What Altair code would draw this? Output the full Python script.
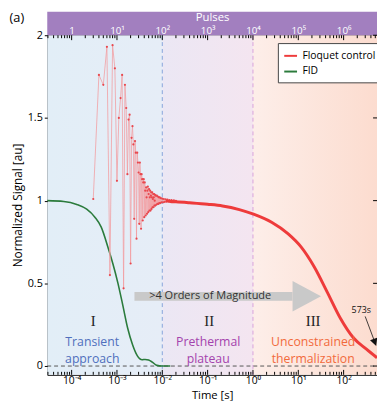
import json
import altair as alt
import pandas as pd

# ---------------- data ----------------
# Floquet control, transient regime: pulse number -> normalized signal
osc_pulse = [3, 4, 5, 6, 7, 8, 9, 10, 11, 12, 13, 14, 15, 16, 17, 18, 19, 20,
             21, 22, 23, 24, 25, 26, 27, 28, 29, 30, 31, 32, 33, 34, 35, 36,
             37, 38, 39, 40, 41, 42, 43, 44, 45, 46, 47, 48, 49, 50, 51, 52,
             53, 54, 55, 56, 57, 58, 59, 60, 61, 62, 63, 64, 65, 66, 67, 68,
             69, 70, 72, 74, 76, 78, 80, 82, 84, 86, 88, 90, 93, 96, 100, 104,
             108, 113, 118, 124, 130, 137, 144, 152, 160, 170, 180, 200]
osc_value = [1.01, 1.76, 1.70, 1.93, 0.55, 1.94, 1.80, 1.12, 1.50, 1.62, 1.76,
             0.47, 1.70, 1.56, 1.16, 1.49, 1.52, 0.62, 1.38, 1.45, 1.34, 0.89,
             1.36, 1.29, 0.77, 1.29, 1.23, 1.17, 0.86, 1.23, 1.16, 0.83, 1.16,
             1.13, 0.88, 1.11, 1.13, 0.90, 1.11, 1.06, 0.91, 1.08, 1.02, 0.92,
             1.06, 1.085, 0.93, 1.04, 1.07, 0.94, 1.02, 1.06, 0.94, 1.03, 1.05,
             0.95, 1.02, 1.05, 0.96, 1.01, 1.04, 0.96, 1.02, 1.04, 0.97, 1.00,
             1.035, 0.97, 1.03, 0.975, 1.03, 0.98, 1.025, 0.98, 1.02, 0.985,
             1.02, 0.985, 1.015, 0.99, 1.012, 0.99, 1.01, 0.992, 1.008, 0.994,
             1.006, 0.995, 1.004, 0.996, 1.003, 0.997, 1.002, 0.999]
PULSE_SPACING_S = 1e-4

# Floquet control, plateau and thermalization: time [s] -> signal
flo_time = [0.012, 0.015, 0.02, 0.04, 0.1, 0.213, 0.5, 1.03, 2.58, 5.9,
            11.5, 22.4, 43.5, 84.8, 164, 319, 545]
flo_value = [1.0, 0.995, 0.993, 0.987, 0.978, 0.968, 0.946, 0.918, 0.869,
             0.80, 0.72, 0.60, 0.447, 0.289, 0.171, 0.102, 0.05]

# FID: time [s] -> signal
fid_time = [2.9e-5, 6.7e-5, 1.3e-4, 2.15e-4, 3.26e-4, 4.5e-4, 6.3e-4, 8.1e-4,
            1.04e-3, 1.34e-3, 1.72e-3, 2.2e-3, 2.8e-3, 3.6e-3, 4.2e-3, 5.0e-3,
            6.0e-3, 7.6e-3, 9.8e-3, 1.5e-2]
fid_value = [1.0, 0.995, 0.977, 0.948, 0.90, 0.84, 0.72, 0.62, 0.506, 0.37,
             0.23, 0.13, 0.063, 0.038, 0.04, 0.036, 0.024, 0.004, 0.0, 0.0]

series_names = ["Floquet control", "FID"]
series_colors = ["#ee3b3b", "#2b7b3c"]

x_tick_values = [1e-4, 1e-3, 1e-2, 1e-1, 1, 10, 100]
x_labels_bottom = ["10⁻⁴", "10⁻³", "10⁻²", "10⁻¹", "10⁰", "10¹", "10²"]
x_labels_top = ["1", "10¹", "10²", "10³", "10⁴", "10⁵", "10⁶"]
y_tick_values = [0, 0.5, 1, 1.5, 2]

region_edges = [2.9e-5, 1e-2, 1.0, 545]
region_names = ["I", "II", "III"]
region_name_time = [3.0e-4, 0.108, 21.3]
region_line1 = ["Transient", "Prethermal", "Unconstrained"]
region_line2 = ["approach", "plateau", "thermalization"]
region_text_time = [2.85e-4, 0.103, 21.3]
region_colors = ["#4f6fbd", "#a443ad", "#f26a3c"]

# ---------------- layout ----------------
TOP = 24
W, H = 336, 346
xs = alt.Scale(type="log", domain=[region_edges[0], region_edges[-1]], nice=False)
ys = alt.Scale(domain=[-0.053, 2.0], nice=False, zero=False)

Y_AXIS = alt.Axis(values=y_tick_values, labelExpr="datum.value + ''",
                  title="Normalized Signal [au]", tickSize=3, tickColor="black",
                  domain=False, grid=False, labelFontSize=11, titleFontSize=12,
                  titleFontWeight="normal", labelPadding=2, titlePadding=3,
                  zindex=1)
bottom_axis = alt.Axis(orient="bottom", values=x_tick_values,
                       labelExpr=json.dumps(x_labels_bottom, ensure_ascii=False)
                       + "[round(log(datum.value)/LN10)+4]",
                       ticks=False, domain=False, grid=False, labelFontSize=10.5,
                       labelPadding=1, labelOverlap=False, title="Time [s]",
                       titleFontSize=11.5, titleFontWeight="normal",
                       titleY=26, titleBaseline="bottom", zindex=1)
top_axis = alt.Axis(orient="top", values=x_tick_values,
                    labelExpr=json.dumps(x_labels_top, ensure_ascii=False)
                    + "[round(log(datum.value)/LN10)+4]",
                    ticks=False, domain=False, grid=False, labelFontSize=10,
                    labelColor="white", labelPadding=0, labelOverlap=False,
                    title="Pulses", titleColor="white", titleFontSize=11.5,
                    titleFontWeight="normal", titleY=-TOP, titleBaseline="top",
                    zindex=1)


def X(field, axis=None):
    return alt.X(f"{field}:Q", scale=xs, axis=axis)


def Y(field):
    return alt.Y(f"{field}:Q", scale=ys, axis=Y_AXIS)


cscale = alt.Scale(domain=series_names, range=series_colors)
legend = alt.Legend(orient="none", legendX=235, legendY=8, title=None,
                    symbolType="stroke", symbolStrokeWidth=2, symbolSize=170,
                    labelFontSize=10.5, fillColor="white", strokeColor="#444",
                    padding=5, rowPadding=2, labelColor="black")


def bg(x0, x1, c0, c1):
    return alt.Chart(pd.DataFrame({"a": [x0], "b": [x1]})).mark_rect(
        color={"gradient": "linear", "x1": 0, "x2": 1, "y1": 0, "y2": 0,
               "stops": [{"offset": 0, "color": c0}, {"offset": 1, "color": c1}]}
    ).encode(x=X("a"), x2="b", y=alt.value(0), y2=alt.value(H))


layers = []
layers.append(bg(region_edges[0], region_edges[1], "#e2eef7", "#e6edf7"))
layers.append(bg(region_edges[1], region_edges[2], "#ebe7f4", "#f4e5f0"))
layers.append(bg(region_edges[2], region_edges[3], "#fdeee9", "#fcdccf"))

# vertical dashed boundaries
for t, c in [(region_edges[1], "#86a3da"), (region_edges[2], "#d8a2da")]:
    layers.append(alt.Chart(pd.DataFrame({"t": [t]})).mark_rule(
        color=c, strokeDash=[4, 3], strokeWidth=1).encode(
        x=X("t"), y=alt.value(0), y2=alt.value(H)))

# zero line
layers.append(alt.Chart(pd.DataFrame({"v": [0]})).mark_rule(
    color="#555", strokeDash=[4, 3], strokeWidth=1).encode(
    y=Y("v"), x=alt.value(0), x2=alt.value(W)))

# ">4 orders of magnitude" arrow
arrow_df = pd.DataFrame({"a": [2.43e-3], "b": [7.46], "v0": [0.395], "v1": [0.448]})
layers.append(alt.Chart(arrow_df).mark_rect(color="#c9c9c9").encode(
    x=X("a"), x2="b", y=Y("v0"), y2="v1"))
layers.append(alt.Chart(pd.DataFrame({"t": [15.4], "v": [0.422]})).mark_point(
    shape="M-1,-1.07L1,0L-1,1.07Z", size=841, filled=True, color="#c9c9c9",
    opacity=1, strokeWidth=0).encode(x=X("t"), y=Y("v")))
layers.append(alt.Chart(pd.DataFrame({"t": [5.14e-3], "v": [0.422],
                                      "s": [">4 Orders of Magnitude"]})).mark_text(
    align="left", baseline="middle", fontSize=11.2, color="#333").encode(
    x=X("t"), y=Y("v"), text="s:N"))

# FID curve
fid_df = pd.DataFrame({"t": fid_time, "v": fid_value, "s": series_names[1]})
layers.append(alt.Chart(fid_df).mark_line(strokeWidth=1.6, interpolate="monotone").encode(
    x=X("t"), y=Y("v"), color=alt.Color("s:N", scale=cscale, legend=legend)))

# Floquet transient oscillations
osc_df = pd.DataFrame({"t": [n * PULSE_SPACING_S for n in osc_pulse], "v": osc_value})
layers.append(alt.Chart(osc_df).mark_line(color="#f29ea2", strokeWidth=0.8).encode(
    x=X("t"), y=Y("v")))
layers.append(alt.Chart(osc_df).mark_point(filled=True, size=5, color="#e8474d",
                                           opacity=1).encode(x=X("t"), y=Y("v")))

# Floquet plateau + decay
flo_df = pd.DataFrame({"t": flo_time, "v": flo_value, "s": series_names[0]})
layers.append(alt.Chart(flo_df).mark_line(strokeWidth=3, interpolate="monotone").encode(
    x=X("t", bottom_axis), y=Y("v"),
    color=alt.Color("s:N", scale=cscale, legend=legend)))

# region labels
roman_df = pd.DataFrame({"t": region_name_time, "v": [0.271] * 3, "s": region_names})
layers.append(alt.Chart(roman_df).mark_text(
    font="Liberation Serif", fontSize=15, color="#222", baseline="middle").encode(
    x=X("t"), y=Y("v"), text="s:N"))
for i in range(3):
    dfi = pd.DataFrame({"t": [region_text_time[i]] * 2, "v": [0.145, 0.045],
                        "s": [region_line1[i], region_line2[i]]})
    layers.append(alt.Chart(dfi).mark_text(
        fontSize=12.5, color=region_colors[i], baseline="middle").encode(
        x=X("t"), y=Y("v"), text="s:N"))

# 573 s annotation
layers.append(alt.Chart(pd.DataFrame({"t": [245], "v": [0.336], "s": ["573s"]})).mark_text(
    fontSize=9, color="#111", baseline="middle").encode(x=X("t"), y=Y("v"), text="s:N"))
layers.append(alt.Chart(pd.DataFrame({"a": [299], "b": [495], "v0": [0.30], "v1": [0.14]})).mark_rule(
    color="#111", strokeWidth=0.8).encode(x=X("a"), x2="b", y=Y("v0"), y2="v1"))
layers.append(alt.Chart(pd.DataFrame({"t": [490], "v": [0.142]})).mark_point(
    shape="M-1,-1L1,-1L0,1Z", size=60, filled=True, color="#111", angle=340,
    opacity=1, strokeWidth=0).encode(x=X("t"), y=Y("v")))

# top "Pulses" band with its axis
layers.append(alt.Chart(pd.DataFrame({"a": [region_edges[0]], "b": [region_edges[-1]]})).mark_rect(
    color="#a27fbf").encode(x=X("a", top_axis), x2="b", y=alt.value(-TOP), y2=alt.value(0)))

# inward ticks (major + minor) on top and bottom, and on the right side
minor = [k * 10.0 ** d for d in range(-5, 3) for k in range(2, 10)
         if region_edges[0] <= k * 10.0 ** d <= region_edges[-1]]
maj_df = pd.DataFrame({"t": x_tick_values})
min_df = pd.DataFrame({"t": minor})
for df, ln in [(maj_df, 5), (min_df, 3)]:
    layers.append(alt.Chart(df).mark_rule(color="black", strokeWidth=1).encode(
        x=X("t"), y=alt.value(H - ln), y2=alt.value(H)))
    layers.append(alt.Chart(df).mark_rule(color="black", strokeWidth=1).encode(
        x=X("t"), y=alt.value(0), y2=alt.value(ln)))
layers.append(alt.Chart(pd.DataFrame({"v": y_tick_values})).mark_rule(
    color="black", strokeWidth=1).encode(y=Y("v"), x=alt.value(W - 4), x2=alt.value(W)))

# panel letter
layers.append(alt.Chart(pd.DataFrame({"s": ["(a)"]})).mark_text(
    fontSize=13, color="black", baseline="middle").encode(
    x=alt.value(-31), y=alt.value(-18), text="s:N"))

chart = alt.layer(*layers).resolve_axis(x="independent").properties(
    width=W, height=H,
    autosize=alt.AutoSizeParams(type="none"),
    padding={"left": 40, "top": TOP, "right": 0, "bottom": 26},
    background="white",
).configure(font="Open Sans").configure_view(
    stroke="black", strokeWidth=1
).configure_axis(labelColor="black", titleColor="black")

chart.save("out.html", embed_options={"renderer": "svg", "actions": False})
